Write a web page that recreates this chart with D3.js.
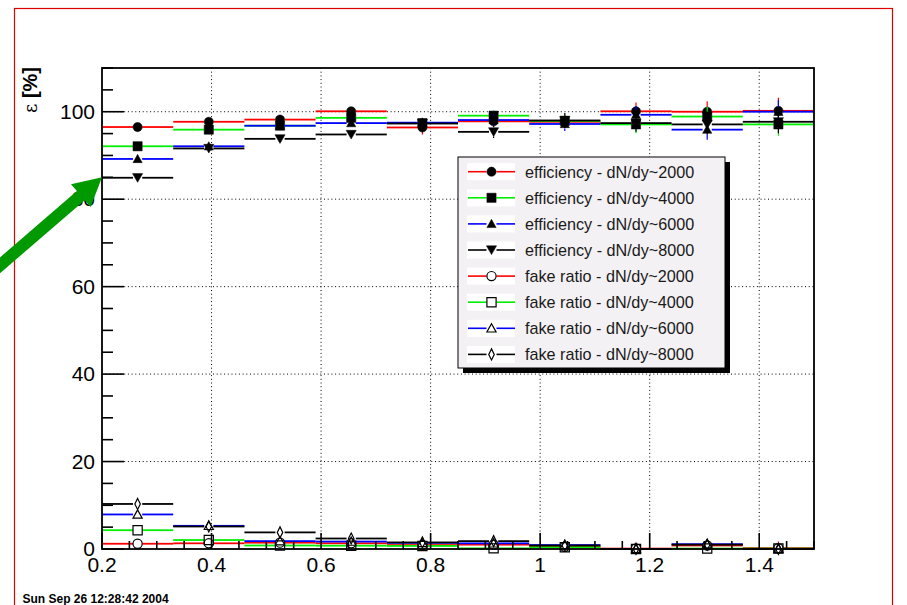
<!DOCTYPE html>
<html>
<head>
<meta charset="utf-8">
<script src="https://cdn.jsdelivr.net/npm/d3@7"></script>
<style>
  html, body { margin: 0; padding: 0; background: #fff; }
  svg { display: block; font-family: "Liberation Sans", Arial, Helvetica, sans-serif; }
</style>
</head>
<body>
<svg id="chart" width="907" height="605"></svg>
<script>
// ---- data ----------------------------------------------------------------
const binEdges = [0.2, 0.33, 0.46, 0.59, 0.72, 0.85, 0.98, 1.11, 1.24, 1.37, 1.5];

const xTicks = [0.2, 0.4, 0.6, 0.8, 1.0, 1.2, 1.4];
const xTickLabels = ["0.2", "0.4", "0.6", "0.8", "1", "1.2", "1.4"];
const yTicks = [0, 20, 40, 60, 80, 100];
const yTickLabels = ["0", "20", "40", "60", "80", "100"];

// tracking efficiency [%] per bin
const eff2000 = [96.5, 97.7, 98.2, 100.1, 96.4, 97.8, 97.7, 100.1, 100.0, 100.2];
const eff4000 = [92.1, 95.9, 96.8, 98.6, 97.4, 99.1, 97.9, 97.1, 98.9, 97.1];
const eff6000 = [89.2, 92.1, 96.8, 97.4, 97.5, 98.1, 97.2, 99.3, 95.9, 100.0];
const eff8000 = [84.9, 91.6, 93.8, 94.8, 97.3, 95.4, 98.0, 97.4, 97.1, 97.7];
const effErr2000 = [0.4, 0.5, 0.6, 0.7, 1.6, 1.2, 1.5, 2.0, 2.4, 3.0];
const effErr4000 = [0.4, 0.5, 0.6, 0.8, 1.0, 1.2, 1.5, 2.0, 2.2, 2.6];
const effErr6000 = [0.5, 0.6, 0.7, 0.9, 1.1, 1.3, 1.6, 2.0, 2.3, 2.6];
const effErr8000 = [0.5, 0.6, 0.8, 1.0, 1.2, 1.4, 1.7, 2.0, 2.3, 2.6];

// fake-track ratio [%] per bin
const fake2000 = [1.2, 1.3, 1.45, 1.3, 0.9, 1.0, 0.5, 0.1, 0.8, 0.2];
const fake4000 = [4.3, 2.05, 0.8, 0.75, 0.7, 0.15, 0.4, 0.0, 0.1, 0.1];
const fake6000 = [7.9, 5.3, 1.8, 1.7, 1.4, 1.3, 0.9, 0.0, 1.1, 0.0];
const fake8000 = [10.3, 5.15, 3.8, 2.4, 1.5, 1.8, 0.8, 0.0, 1.0, 0.0];
const fakeErr2000 = [0.3, 0.3, 0.4, 0.4, 0.5, 0.5, 0.6, 1.4, 1.0, 1.5];
const fakeErr4000 = [0.5, 0.4, 0.4, 0.4, 0.4, 0.4, 0.5, 0.6, 0.6, 1.2];
const fakeErr6000 = [0.6, 0.5, 0.4, 0.4, 0.4, 0.4, 0.5, 0.6, 0.6, 0.6];
const fakeErr8000 = [0.7, 0.5, 0.4, 0.4, 0.4, 0.4, 0.5, 0.6, 0.6, 0.6];

const seriesLabels = [
  "efficiency - dN/dy~2000", "efficiency - dN/dy~4000",
  "efficiency - dN/dy~6000", "efficiency - dN/dy~8000",
  "fake ratio - dN/dy~2000", "fake ratio - dN/dy~4000",
  "fake ratio - dN/dy~6000", "fake ratio - dN/dy~8000"
];
const seriesValues = [eff2000, eff4000, eff6000, eff8000, fake2000, fake4000, fake6000, fake8000];
const seriesErrors = [effErr2000, effErr4000, effErr6000, effErr8000, fakeErr2000, fakeErr4000, fakeErr6000, fakeErr8000];

// ---- styling -------------------------------------------------------------
const lineColors = ["#ff0000", "#00ee00", "#0000ff", "#000000", "#ff0000", "#00ee00", "#0000ff", "#000000"];
const markerTypes = ["circle", "square", "triUp", "triDown", "openCircle", "openSquare", "openTriUp", "openDiamond"];

const series = seriesLabels.map((label, i) => ({
  label, values: seriesValues[i], errors: seriesErrors[i],
  color: lineColors[i], marker: markerTypes[i]
}));

const svg = d3.select("#chart");
const frame = { left: 102, right: 814, top: 68, bottom: 549 };

const x = d3.scaleLinear().domain([0.2, 1.5]).range([frame.left, frame.right]);
const y = d3.scaleLinear().domain([0, 110]).range([frame.bottom, frame.top]);

// canvas border
svg.append("rect")
  .attr("x", 14.5).attr("y", 8.5).attr("width", 878).attr("height", 640)
  .attr("fill", "none").attr("stroke", "#e00000").attr("stroke-width", 1.2);

// grid at major ticks
const grid = svg.append("g").attr("stroke", "#000").attr("stroke-width", 1)
  .attr("stroke-dasharray", "1,2.7");
xTicks.filter(t => t > 0.2).forEach(t => {
  grid.append("line").attr("x1", x(t)).attr("x2", x(t))
    .attr("y1", frame.top).attr("y2", frame.bottom);
});
yTicks.filter(t => t > 0).forEach(t => {
  grid.append("line").attr("x1", frame.left).attr("x2", frame.right)
    .attr("y1", y(t)).attr("y2", y(t));
});

// marker shapes
function markerPath(type, r) {
  switch (type) {
    case "circle": case "openCircle":
      return d3.symbol(d3.symbolCircle, Math.PI * r * r)();
    case "square": case "openSquare":
      return `M${-r},${-r}H${r}V${r}H${-r}Z`;
    case "triUp": case "openTriUp":
      return `M0,${-r}L${r},${r * 0.8}L${-r},${r * 0.8}Z`;
    case "triDown":
      return `M0,${r}L${r * 1.1},${-r * 0.9}L${-r * 1.1},${-r * 0.9}Z`;
    case "openDiamond":
      return `M0,${-r * 1.2}L${r * 0.6},0L0,${r * 1.2}L${-r * 0.6},0Z`;
  }
}
function isOpen(type) { return type.startsWith("open"); }
const R = 4.6;

// histograms drawn with bin-width bars, vertical errors and markers
const plot = svg.append("g");
series.forEach(s => {
  const g = plot.append("g");
  s.values.forEach((v, i) => {
    const x0 = x(binEdges[i]), x1 = x(binEdges[i + 1]);
    const xc = x((binEdges[i] + binEdges[i + 1]) / 2);
    const yc = y(v);
    const segs = [
      [x0, yc, xc - R, yc],
      [xc + R, yc, x1, yc]
    ];
    const yTop = y(v + s.errors[i]), yBot = y(Math.max(0, v - s.errors[i]));
    if (yc - yTop > R) segs.push([xc, yTop, xc, yc - R]);
    if (yBot - yc > R) segs.push([xc, yc + R, xc, yBot]);
    segs.forEach(d => {
      g.append("line").attr("x1", d[0]).attr("y1", d[1]).attr("x2", d[2]).attr("y2", d[3])
        .attr("stroke", s.color).attr("stroke-width", d[1] === d[3] ? 1.8 : 1.2);
    });
  });
  s.values.forEach((v, i) => {
    const xc = x((binEdges[i] + binEdges[i + 1]) / 2);
    g.append("path").attr("d", markerPath(s.marker, R))
      .attr("transform", `translate(${xc},${y(v)})`)
      .attr("fill", isOpen(s.marker) ? "none" : "#000")
      .attr("stroke", "#000").attr("stroke-width", isOpen(s.marker) ? 1.2 : 0.5);
  });
});

// frame
svg.append("rect")
  .attr("x", frame.left).attr("y", frame.top)
  .attr("width", frame.right - frame.left).attr("height", frame.bottom - frame.top)
  .attr("fill", "none").attr("stroke", "#000").attr("stroke-width", 1.8);

// ticks: major and minor, pointing into the frame
const ticks = svg.append("g").attr("stroke", "#000").attr("stroke-width", 1.6);
d3.range(0, 111, 5).forEach(v => {
  const major = v % 20 === 0;
  ticks.append("line").attr("x1", frame.left).attr("x2", frame.left + (major ? 22 : 11))
    .attr("y1", y(v)).attr("y2", y(v));
});
d3.range(0, 27).map(k => 0.2 + k * 0.05).forEach(v => {
  const major = Math.abs((v - 0.2) / 0.2 - Math.round((v - 0.2) / 0.2)) < 1e-6;
  ticks.append("line").attr("x1", x(v)).attr("x2", x(v))
    .attr("y1", frame.bottom).attr("y2", frame.bottom - (major ? 16 : 8));
});

// tick labels
const labels = svg.append("g").attr("font-size", 21).attr("fill", "#000");
xTicks.forEach((t, i) => {
  labels.append("text").attr("x", x(t)).attr("y", 572)
    .attr("text-anchor", "middle").text(xTickLabels[i]);
});
yTicks.forEach((t, i) => {
  labels.append("text").attr("x", 95).attr("y", y(t) + 7)
    .attr("text-anchor", "end").text(yTickLabels[i]);
});

// y-axis title
const yTitle = svg.append("text")
  .attr("transform", `translate(37,67) rotate(-90)`)
  .attr("text-anchor", "end").attr("fill", "#000");
yTitle.append("tspan").attr("font-size", 18).attr("font-family", "'DejaVu Serif', serif").text("ε");
yTitle.append("tspan").attr("font-size", 20).attr("font-weight", "bold").text(" [%]");

// legend
const leg = { x: 458, y: 157, w: 267, h: 211, row0: 171.7, dy: 26.1 };
svg.append("rect").attr("x", leg.x + 5).attr("y", leg.y + 5).attr("width", leg.w).attr("height", leg.h)
  .attr("fill", "#000");
svg.append("rect").attr("x", leg.x).attr("y", leg.y).attr("width", leg.w).attr("height", leg.h)
  .attr("fill", "#f4f1f4").attr("stroke", "#000").attr("stroke-width", 1);
series.forEach((s, i) => {
  const cy = leg.row0 + i * leg.dy;
  svg.append("rect").attr("x", 467).attr("y", cy - 8.5).attr("width", 48).attr("height", 17).attr("fill", "#fff");
  svg.append("line").attr("x1", 468).attr("x2", 486.5).attr("y1", cy).attr("y2", cy)
    .attr("stroke", s.color).attr("stroke-width", 1.6);
  svg.append("line").attr("x1", 496.5).attr("x2", 515).attr("y1", cy).attr("y2", cy)
    .attr("stroke", s.color).attr("stroke-width", 1.6);
  svg.append("path").attr("d", markerPath(s.marker, R)).attr("transform", `translate(491.5,${cy})`)
    .attr("fill", isOpen(s.marker) ? "none" : "#000")
    .attr("stroke", "#000").attr("stroke-width", isOpen(s.marker) ? 1.2 : 0.5);
  svg.append("text").attr("x", 525).attr("y", cy + 5.8).attr("font-size", 16.2)
    .attr("fill", "#1a1a1a").text(s.label);
});

// annotation arrow pointing at the 85 % level on the y axis
(function () {
  const tip = [x(0.2), y(85)];
  const ang = Math.atan2(-88, 102);
  const u = [Math.cos(ang), Math.sin(ang)], n = [-u[1], u[0]];
  const headLen = 28, headHalf = 15, shaftHalf = 6, len = 190;
  const b = [tip[0] - headLen * u[0], tip[1] - headLen * u[1]];
  const t = [tip[0] - len * u[0], tip[1] - len * u[1]];
  const p = (c, k) => [c[0] + k * n[0], c[1] + k * n[1]];
  const pts = [tip, p(b, headHalf), p(b, shaftHalf), p(t, shaftHalf), p(t, -shaftHalf), p(b, -shaftHalf), p(b, -headHalf)];
  svg.append("path").attr("d", d3.line()(pts) + "Z").attr("fill", "#009a00");
})();

// date stamp
svg.append("text").attr("x", 22.5).attr("y", 603).attr("font-size", 12).attr("font-weight", "bold")
  .attr("fill", "#000").text("Sun Sep 26 12:28:42 2004");
</script>
</body>
</html>
